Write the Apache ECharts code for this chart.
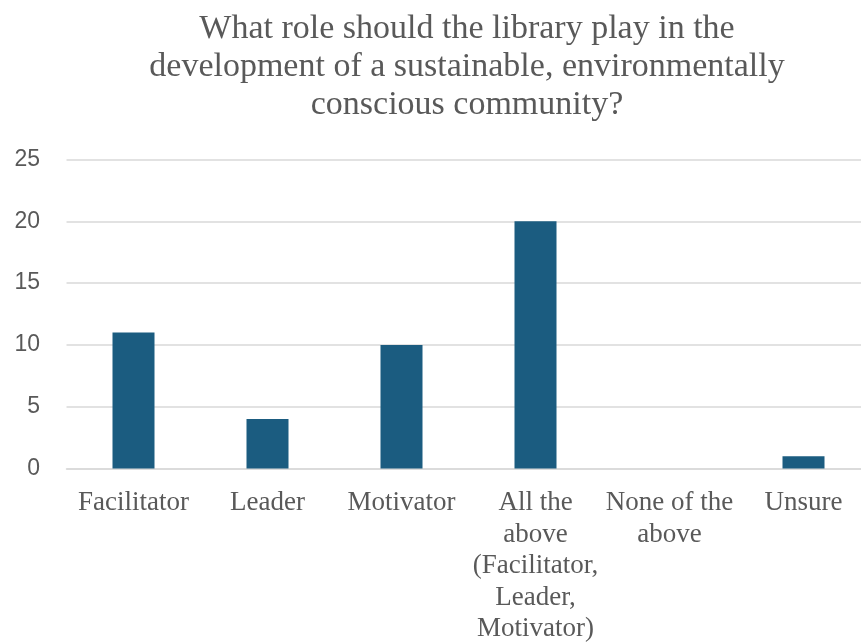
<!DOCTYPE html>
<html>
<head>
<meta charset="utf-8">
<script src="https://cdn.jsdelivr.net/npm/echarts@6/dist/echarts.min.js"></script>
<style>
  html, body { margin: 0; padding: 0; background: #ffffff; overflow: hidden; }
  #chart { width: 861px; height: 644px; }
</style>
</head>
<body>
<div id="chart"></div>
<script>
// Survey responses: the library's role in a sustainable community
const chartTitle = 'What role should the library play in the\ndevelopment of a sustainable, environmentally\nconscious community?';
const categories = [
  'Facilitator',
  'Leader',
  'Motivator',
  'All the\nabove\n(Facilitator,\nLeader,\nMotivator)',
  'None of the\nabove',
  'Unsure'
];
const responses = [11, 4, 10, 20, 0, 1];
const yTicks = { min: 0, max: 25, interval: 5 };

const chart = echarts.init(document.getElementById('chart'), null, { renderer: 'canvas' });

chart.setOption({
  backgroundColor: '#ffffff',
  animation: false,
  title: {
    text: chartTitle,
    left: 462,
    textAlign: 'center',
    top: 5,
    textStyle: {
      fontFamily: '"Liberation Serif", "Times New Roman", serif',
      fontSize: 34,
      fontWeight: 'normal',
      lineHeight: 38,
      color: '#595959'
    }
  },
  // plot area runs slightly past the right edge of the canvas
  grid: {
    left: 66.5,
    width: 804,
    top: 159.5,
    height: 309,
    containLabel: false,
    outerBoundsMode: 'none'
  },
  xAxis: {
    type: 'category',
    data: categories,
    axisLine: { show: true, lineStyle: { color: '#d9d9d9', width: 1.5 } },
    axisTick: { show: false },
    axisLabel: {
      interval: 0,
      margin: 19,
      fontFamily: '"Liberation Serif", "Times New Roman", serif',
      fontSize: 27,
      lineHeight: 31.5,
      color: '#595959',
      align: 'center'
    }
  },
  yAxis: {
    type: 'value',
    min: yTicks.min,
    max: yTicks.max,
    interval: yTicks.interval,
    axisLine: { show: false },
    axisTick: { show: false },
    splitLine: { show: true, lineStyle: { color: '#d9d9d9', width: 1.5 } },
    axisLabel: {
      margin: 26.5,
      fontFamily: '"Liberation Sans", Arial, sans-serif',
      fontSize: 23,
      color: '#595959'
    }
  },
  series: [{
    type: 'bar',
    data: responses,
    barWidth: 42,
    itemStyle: { color: '#1b5c80' }
  }]
});
</script>
</body>
</html>
